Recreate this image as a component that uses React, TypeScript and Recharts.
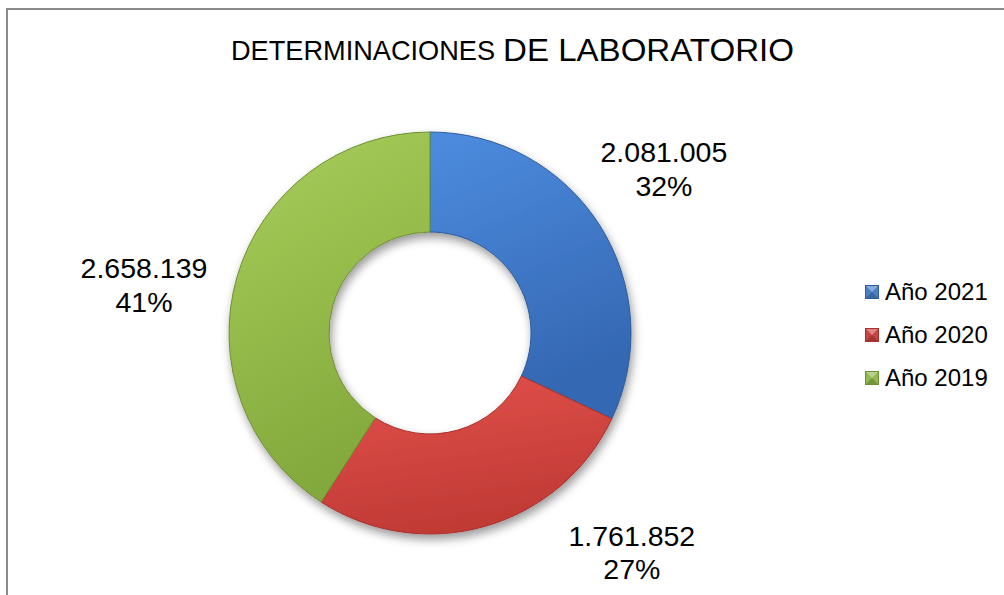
import React from "react";
import { PieChart, Pie, Cell, Legend } from "recharts";

const categories = ["Año 2021", "Año 2020", "Año 2019"];
const values = [2081005, 1761852, 2658139];
const titleParts = ["DETERMINACIONES", "DE LABORATORIO"];

const gradIds = ["gBlue", "gRed", "gGreen"];
const gradStops = [
  ["#4d8cdf", "#3467b2"],
  ["#e2514c", "#c13a35"],
  ["#a8cf5b", "#83a83c"],
];
const swatch = ["#4a7fc6", "#c94440", "#93b84f"];
const strokes = ["#2d5c9c", "#a8302c", "#6f8f33"];
// label placement tweaks (angle shift in degrees, radius in px)
const labelAngleShift = [2.6, 26.6, 6.9];
const labelRadius = [285.5, 298.3, 290];

const data = categories.map((name, i) => ({ name, value: values[i] }));

const FONT = "'Liberation Sans', Arial, sans-serif";
const RADIAN = Math.PI / 180;

const fmt = (n: number) => String(n).replace(/\B(?=(\d{3})+(?!\d))/g, ".");

const renderLabel = (props: any) => {
  const { cx, cy, midAngle, percent, index, value } = props;
  const a = (midAngle + labelAngleShift[index]) * RADIAN;
  const r = labelRadius[index];
  const x = cx + r * Math.cos(-a);
  const y = cy + r * Math.sin(-a);
  return (
    <text
      x={x}
      y={y}
      textAnchor="middle"
      fill="#000"
      style={{ fontFamily: FONT, fontSize: 28.5 }}
    >
      <tspan x={x} y={y - 7}>
        {fmt(value)}
      </tspan>
      <tspan x={x} y={y + 26.5}>
        {Math.round(percent * 100)}%
      </tspan>
    </text>
  );
};

const LegendContent = () => (
  <div style={{ fontFamily: FONT, fontSize: 24, color: "#000" }}>
    {categories.map((c, i) => (
      <div
        key={c}
        style={{ height: 43, display: "flex", alignItems: "center" }}
      >
        <svg width={14} height={14} style={{ marginRight: 6, flex: "none" }}>
          <rect x={0} y={0} width={14} height={14} fill={swatch[i]} />
          <polygon points="0,0 14,0 7,7" fill="rgba(255,255,255,0.35)" />
          <polygon points="0,14 14,14 7,7" fill="rgba(0,0,0,0.2)" />
          <rect
            x={0.5}
            y={0.5}
            width={13}
            height={13}
            fill="none"
            stroke={strokes[i]}
          />
        </svg>
        <span style={{ whiteSpace: "nowrap" }}>{c}</span>
      </div>
    ))}
  </div>
);

export default function App() {
  return (
    <div
      style={{
        position: "absolute",
        left: 0,
        top: 0,
        width: 1004,
        height: 595,
        overflow: "hidden",
        background: "#fff",
      }}
    >
      <style>{`.recharts-pie { filter: url(#pieShadow); }`}</style>
      <div
        style={{
          position: "absolute",
          left: 6,
          top: 8,
          width: 1100,
          height: 700,
          border: "2px solid #8a8a8a",
          boxSizing: "border-box",
        }}
      />
      <svg
        width={1004}
        height={80}
        style={{ position: "absolute", left: 0, top: 0 }}
      >
        <text
          x={231}
          y={60}
          fill="#000"
          fontSize={28.5}
          textLength={264}
          lengthAdjust="spacingAndGlyphs"
          style={{ fontFamily: FONT }}
        >
          {titleParts[0]}
        </text>
        <text
          x={503}
          y={60.5}
          fill="#000"
          fontSize={31.5}
          textLength={291}
          lengthAdjust="spacingAndGlyphs"
          style={{ fontFamily: FONT }}
        >
          {titleParts[1]}
        </text>
      </svg>
      <div style={{ position: "absolute", left: 0, top: 0 }}>
        <PieChart
          width={1004}
          height={595}
          margin={{ top: 0, right: 0, bottom: 0, left: 0 }}
        >
          <defs>
            {gradIds.map((id, i) => (
              <linearGradient key={id} id={id} x1="0" y1="0" x2="0.3" y2="1">
                <stop offset="0%" stopColor={gradStops[i][0]} />
                <stop offset="100%" stopColor={gradStops[i][1]} />
              </linearGradient>
            ))}
            <filter id="pieShadow" x="-20%" y="-20%" width="140%" height="140%">
              <feDropShadow
                dx="2"
                dy="5"
                stdDeviation="5"
                floodColor="#000"
                floodOpacity="0.4"
              />
            </filter>
          </defs>
          <Pie
            data={data}
            dataKey="value"
            nameKey="name"
            cx={430}
            cy={333}
            innerRadius={101}
            outerRadius={201}
            startAngle={90}
            endAngle={-270}
            label={renderLabel}
            labelLine={false}
            isAnimationActive={false}
          >
            {data.map((d, i) => (
              <Cell
                key={d.name}
                fill={`url(#${gradIds[i]})`}
                stroke={strokes[i]}
                strokeWidth={1}
              />
            ))}
          </Pie>
          <Legend
            layout="vertical"
            align="right"
            verticalAlign="middle"
            content={<LegendContent />}
            wrapperStyle={{ position: "absolute", left: 865, top: 270, width: 139 }}
          />
        </PieChart>
      </div>
    </div>
  );
}
